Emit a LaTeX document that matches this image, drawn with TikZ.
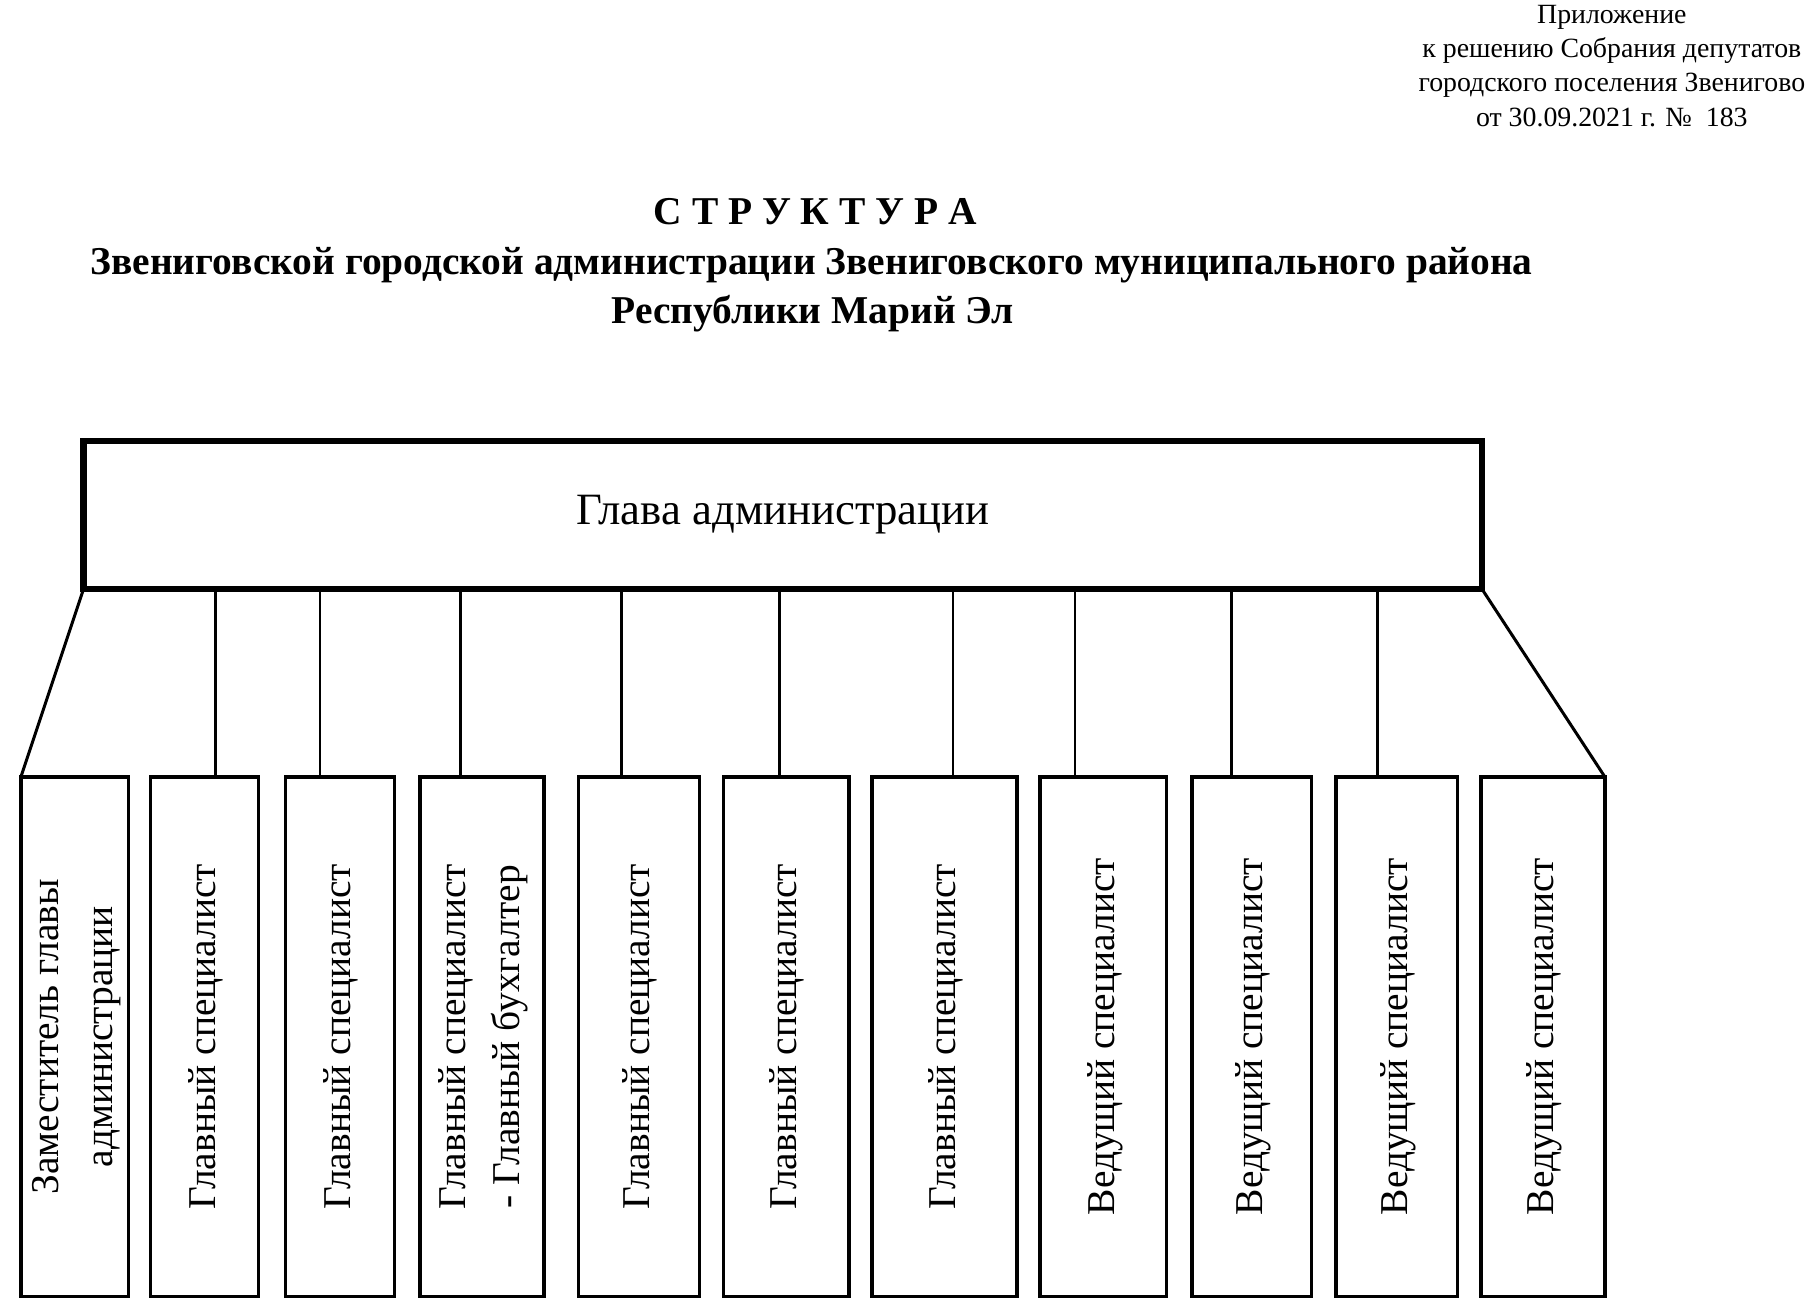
\documentclass[tikz,border=0pt]{standalone}
\usepackage{fontspec}
\setmainfont{Liberation Serif}
\begin{document}
\begin{tikzpicture}[x=0.5pt,y=-0.5pt,
  mainbox/.style={draw, line width=2.6pt, inner sep=0pt, outer sep=0pt, minimum width=603pt, minimum height=64pt, font=\fontsize{19.3}{23}\selectfont},
  unitbox/.style={draw, line width=1.5pt, inner sep=0pt, outer sep=0pt, minimum height=224pt, font=\fontsize{17}{23}\selectfont},
  conn/.style={line width=1.1pt},
  diag/.style={line width=1.3pt},
  note/.style={font=\fontsize{12}{14.8}\selectfont, align=center, inner sep=0pt},
  ttl/.style={font=\fontsize{17}{21}\bfseries\selectfont, inner sep=0pt, anchor=base}]
\useasboundingbox (0,0) rectangle (1560,1128);

\node[note, anchor=north] (appx) at (1390,4) {Приложение\\к решению Собрания депутатов\\городского поселения Звенигово\\от 30.09.2021 г. №\ \ 183};

\node[ttl] (t1) at (703,194) {С Т Р У К Т У Р А};
\node[ttl] (t2) at (700,237) {Звениговской городской администрации Звениговского муниципального района};
\node[ttl] (t3) at (701,279) {Республики Марий Эл};

\node[mainbox] (main) at (675,444) {Глава администрации};

\foreach \n/\c/\w/\t in {
  1/64.5/93/{Заместитель главы\\администрации},
  2/176.5/93/{Главный специалист},
  3/293/94/{Главный специалист},
  4/415.5/107/{Главный специалист\\- Главный бухгалтер},
  5/551/104/{Главный специалист},
  6/678/108/{Главный специалист},
  7/814.5/125/{Главный специалист},
  8/951.5/109/{Ведущий специалист},
  9/1079.5/103/{Ведущий специалист},
  10/1204.5/105/{Ведущий специалист},
  11/1330.5/107/{Ведущий специалист}}{
  \node[unitbox, minimum width=\w*0.5pt] (b\n) at (\c,894)
    {\rotatebox{90}{\begin{tabular}{@{}c@{}}\t\end{tabular}}};
}

\foreach \n/\x in {2/186,3/276,4/397,5/536,6/672,7/822,8/927,9/1062,10/1188}{
  \coordinate (k\n) at (\x,670);
  \draw[conn] (k\n |- main.south) -- (k\n);
}

\draw[diag] (main.south west) -- (b1.north west);
\draw[diag] (main.south east) -- (b11.north east);
\end{tikzpicture}
\end{document}
